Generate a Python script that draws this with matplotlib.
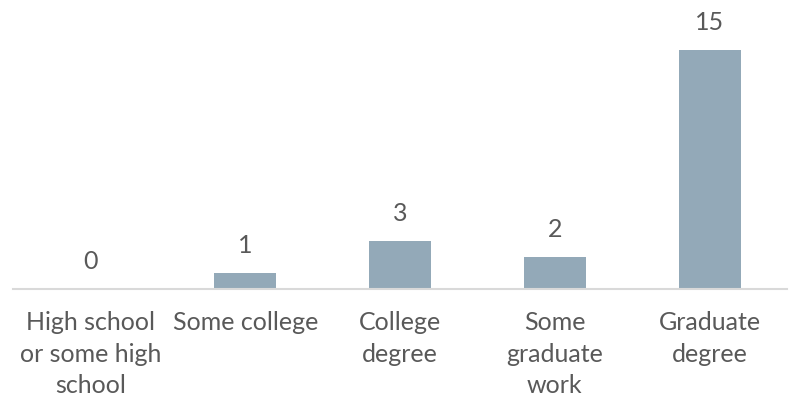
import matplotlib.pyplot as plt

categories = ["High school\nor some high\nschool", "Some college", "College\ndegree",
              "Some\ngraduate\nwork", "Graduate\ndegree"]
counts = [0, 1, 3, 2, 15]

bar_color = "#93a9b8"
text_color = "#595959"
plt.rcParams["font.family"] = ["Lato", "DejaVu Sans"]

fig = plt.figure(figsize=(7.93, 4.0), dpi=100)
ax = fig.add_axes([13 / 793, 1 - 289 / 400, 774 / 793, 255 / 400])

x = range(len(categories))
bars = ax.bar(x, counts, width=0.4, color=bar_color, zorder=2)

for xi, v in zip(x, counts):
    ax.annotate(str(v), (xi, v), xytext=(0, 20), textcoords="offset points",
                ha="center", va="center", fontsize=18, color=text_color)

ax.set_xlim(-0.5, len(categories) - 0.5)
ax.set_ylim(0, 16)
ax.set_xticks(list(x))
ax.set_xticklabels(categories, fontsize=18, color=text_color, linespacing=1.45)
ax.tick_params(axis="x", length=0, pad=16)
ax.set_yticks([])
for side in ("top", "right", "left"):
    ax.spines[side].set_visible(False)
ax.spines["bottom"].set_color("#d9d9d9")
ax.spines["bottom"].set_linewidth(1.5)
ax.patch.set_alpha(0)

fig.savefig("out.png", dpi=100)
